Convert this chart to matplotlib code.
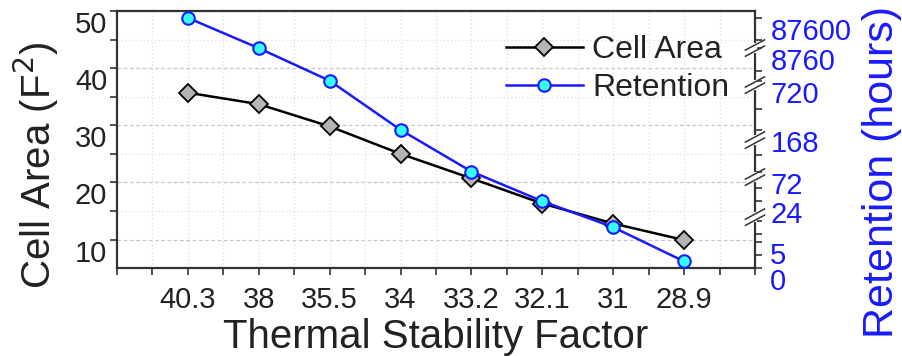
import numpy as np
import matplotlib
matplotlib.use("Agg")
import matplotlib.pyplot as plt
from matplotlib.ticker import FixedLocator, NullFormatter

plt.rcParams['font.family'] = ['Liberation Sans', 'DejaVu Sans']

# data
stability = ['40.3', '38', '35.5', '34', '33.2', '32.1', '31', '28.9']
cell_area = [35.7, 33.7, 29.8, 25.0, 20.7, 16.3, 12.8, 9.9]
retention = [87600, 8760, 720, 168, 72, 24, 12, 1.3]

# broken right axis: labelled hours and where they sit (in left-axis units)
ret_ticks = [0, 5, 24, 72, 168, 720, 8760, 87600]
ret_pos = [5.0, 9.5, 16.7, 21.9, 29.2, 37.8, 43.5, 48.8]
ret_minor = [2.5, 9, 15, 45, 110, 400, 3000, 30000]
# extra anchor so the scale reaches the top of the frame
anchor_h = ret_ticks + [100000]
anchor_p = ret_pos + [50.0]

def fwd(h):
    return np.interp(h, anchor_h, anchor_p)

def inv(p):
    return np.interp(p, anchor_p, anchor_h)

blue = '#1a1aff'
dark = '#222222'

fig = plt.figure(figsize=(9.02, 3.56), dpi=100)
ax = fig.add_axes([0.1297, 0.247, 0.7073, 0.722])
x = np.arange(1, len(stability) + 1)

ax.plot(x, cell_area, color='black', lw=1.8, marker='D', ms=9,
        mfc='#b4b4b4', mec='black', mew=1.3, label='Cell Area', zorder=3)

ax.set_xlim(0, 9)
ax.set_ylim(5, 50)
ax.set_xticks(x)
ax.set_xticklabels(stability)
ax.xaxis.set_minor_locator(FixedLocator(np.arange(0, 9.01, 0.5)))
ax.set_yticks([10, 20, 30, 40, 50])
ax.yaxis.set_minor_locator(FixedLocator([15, 25, 35, 45]))
for lab in ax.get_yticklabels():
    lab.set_verticalalignment('top')

ax.grid(which='major', axis='y', color='#c8c8c8', ls=(0, (3, 2)), lw=0.9)
ax.grid(which='minor', axis='y', color='#dcdcdc', ls=(0, (1, 2)), lw=0.9)
ax.grid(which='both', axis='x', color='#dcdcdc', ls=(0, (1, 2)), lw=0.9)
ax.set_axisbelow(True)

ax.tick_params(axis='both', which='both', direction='out', colors='#333333',
               labelcolor=dark, labelsize=21, width=1.2, length=5)
ax.tick_params(axis='y', pad=2)
ax.tick_params(axis='x', pad=8)
for s in ax.spines.values():
    s.set_color('#333333')
    s.set_linewidth(1.6)

ax.set_xlabel('Thermal Stability Factor', fontsize=29, color=dark, labelpad=3)
ax.set_ylabel('Cell Area (F$^2$)', fontsize=29, color=dark)
ax.yaxis.set_label_coords(-0.088, 0.40)

ax2 = ax.twinx()
ax2.set_yscale('function', functions=(fwd, inv))
ax2.plot(x, retention, color=blue, lw=1.8, marker='o', ms=9,
         mfc='#33ffff', mec=blue, mew=1.5, label='Retention', zorder=4)
ax2.set_ylim(0, 100000)
ax2.yaxis.set_major_locator(FixedLocator(ret_ticks))
ax2.set_yticklabels([str(t) for t in ret_ticks])
ax2.yaxis.set_minor_locator(FixedLocator(ret_minor))
ax2.yaxis.set_minor_formatter(NullFormatter())
for lab in ax2.get_yticklabels():
    lab.set_verticalalignment('top')
ax2.tick_params(axis='y', which='both', direction='out', colors='#333333',
                labelcolor=blue, labelsize=21, width=1.2, length=5, pad=6)
for s in ax2.spines.values():
    s.set_visible(False)
ax2.set_ylabel('Retention (hours)', fontsize=31, color=blue)
ax2.yaxis.set_label_coords(1.168, 0.375)

# break symbols on the right spine
for yb in [0.856, 0.712, 0.498, 0.354, 0.198]:
    ax2.plot([1, 1], [yb - 0.012, yb + 0.012], transform=ax2.transAxes,
             color='white', lw=3, clip_on=False, zorder=6)
    for dy in (-0.012, 0.012):
        ax2.plot([0.985, 1.015], [yb + dy - 0.02, yb + dy + 0.02],
                 transform=ax2.transAxes, color='#333333', lw=1.1,
                 clip_on=False, zorder=7)

h1, l1 = ax.get_legend_handles_labels()
h2, l2 = ax2.get_legend_handles_labels()
ax2.legend(h1 + h2, l1 + l2, loc='upper right', bbox_to_anchor=(0.99, 0.98),
           frameon=False, fontsize=23, handlelength=2.4, handletextpad=0.3,
           labelspacing=0.25, borderaxespad=0.2, labelcolor=dark)

fig.savefig('out.png', dpi=100)
